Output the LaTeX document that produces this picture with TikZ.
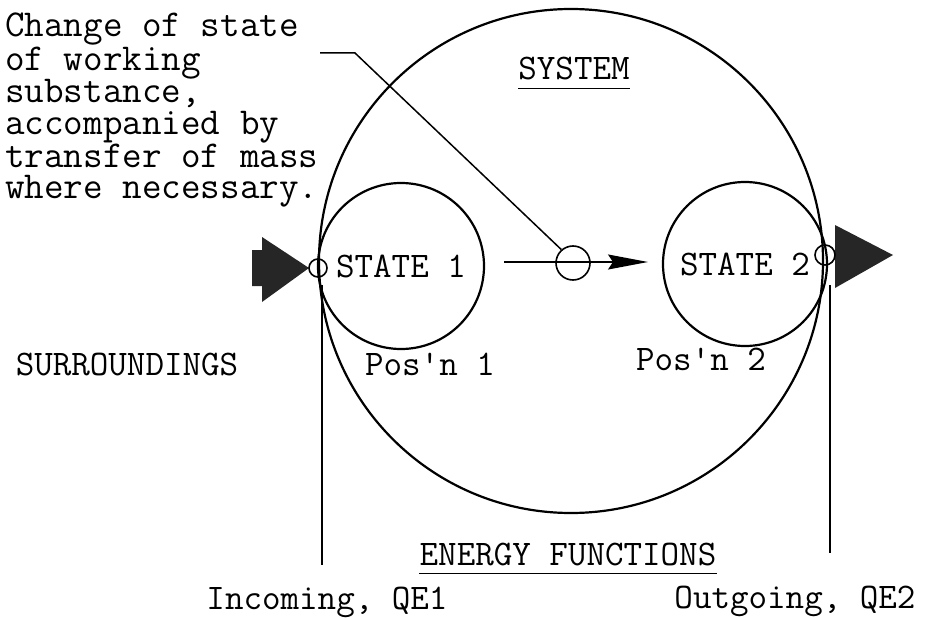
\documentclass[tikz,border=0pt]{standalone}
\usepackage{fontspec}
\usetikzlibrary{arrows.meta}
\tikzset{
  ring/.style={circle,draw,line width=2.2pt,inner sep=0pt},
  lbl/.style={inner sep=0pt,anchor=base},
  thin line/.style={line width=1.5pt},
  blob/.style={fill=black!85},
}
\begin{document}
\begin{tikzpicture}[x=1pt,y=-1pt,font=\ttfamily\fontsize{36}{31.6}\selectfont]
\useasboundingbox (0,0) rectangle (930,618);
\fill[blob] (252,250) -- (262,250) -- (262,237) -- (309,268) -- (262,302) -- (262,286) -- (252,286) -- cycle;
\fill[blob] (835,225) -- (893,255) -- (835,288) -- cycle;
\node[ring,minimum size=504pt] (sys) at (571,261) {};
\node[ring,minimum size=166pt] (st1) at (401,266) {STATE 1};
\node[ring,minimum size=164pt] (st2) at (745,264) {STATE 2};
\node[ring,line width=1.6pt,minimum size=34pt] (mid) at (573,263) {};
\node[ring,line width=1.6pt,minimum size=18pt] (inA) at (318,268) {};
\node[ring,line width=1.6pt,minimum size=20pt] (outB) at (825,255) {};
\node[inner sep=0pt,anchor=north west,align=left,font=\ttfamily\fontsize{38}{31.4}\selectfont] (note) at (5,13) {Change of state\\of working\\substance,\\accompanied by\\transfer of mass\\where necessary.};
\node[lbl] (sysT) at (574,80) {SYSTEM};
\draw[thin line] ([yshift=-8pt]sysT.south west) -- ([yshift=-8pt]sysT.south east);
\node[lbl] (sur) at (127,375) {SURROUNDINGS};
\node[lbl] (pos1) at (430,375) {Pos'n 1};
\node[lbl] (pos2) at (701,370) {Pos'n 2};
\node[lbl] (enf) at (568,565) {ENERGY FUNCTIONS};
\draw[thin line] ([yshift=-8pt]enf.south west) -- ([yshift=-8pt]enf.south east);
\node[lbl] (inc) at (327,609) {Incoming, QE1};
\node[lbl] (outg) at (795,608) {Outgoing, QE2};
\coordinate (lead) at (320,53);
\draw[thin line] (lead) -- (355,53) -- (mid.131);
\coordinate (flowA) at (504,262);
\coordinate (flowB) at (648,262);
\draw[thin line,-{Stealth[length=40pt,width=15pt,inset=5pt]}] (flowA) -- (flowB);
\coordinate (qA1) at (322,285);
\coordinate (qA2) at (322,565);
\draw[thin line] (qA1) -- (qA2);
\coordinate (qB1) at (830,285);
\coordinate (qB2) at (830,553);
\draw[thin line] (qB1) -- (qB2);
\end{tikzpicture}
\end{document}
